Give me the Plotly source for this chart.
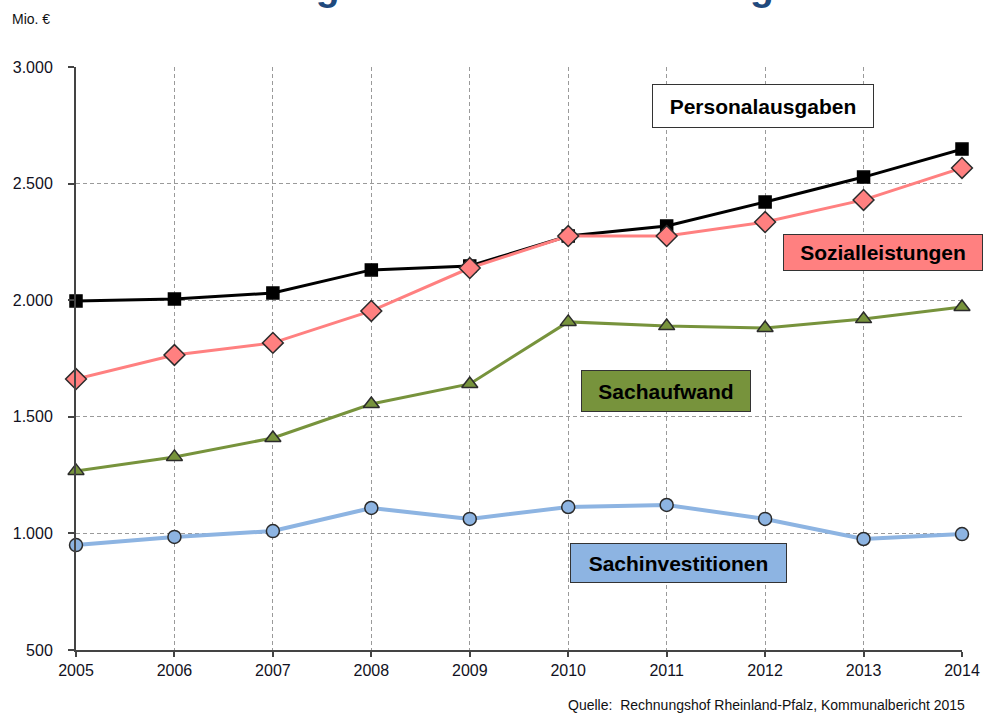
import plotly.graph_objects as go

# Municipal expenditure in Rhineland-Palatinate, million euros
years = [2005, 2006, 2007, 2008, 2009, 2010, 2011, 2012, 2013, 2014]
personalausgaben = [1997, 2005, 2031, 2130, 2147, 2275, 2318, 2421, 2528, 2648]
sozialleistungen = [1662, 1765, 1817, 1954, 2138, 2275, 2275, 2335, 2430, 2567]
sachaufwand = [1268, 1328, 1409, 1555, 1641, 1907, 1889, 1881, 1919, 1971]
sachinvestitionen = [950, 985, 1010, 1109, 1062, 1113, 1122, 1062, 976, 997]
y_ticks = [500, 1000, 1500, 2000, 2500, 3000]

FONT = "Liberation Sans, Arial, sans-serif"
W, H = 984, 713
L, R, T, B = 76, 22, 67, 63
PW, PH = W - L - R, H - T - B


def px(x):
    return (x - L) / PW


def py(y):
    return (H - B - y) / PH


fig = go.Figure()

series = [
    ("Sachinvestitionen", sachinvestitionen, "#8DB4E2", 4, "circle", 13),
    ("Sachaufwand", sachaufwand, "#77933C", 3, "triangle-up", 14),
    ("Personalausgaben", personalausgaben, "#000000", 3, "square", 12),
    ("Sozialleistungen", sozialleistungen, "#FF8080", 3, "diamond", 16),
]
for name, vals, color, lw, sym, size in series:
    border = "#000000" if sym == "square" else "#2b2b2b"
    fig.add_trace(go.Scatter(
        x=years, y=vals, name=name, mode="lines+markers",
        line=dict(color=color, width=lw),
        marker=dict(symbol=sym, size=size, color=color,
                    line=dict(color=border, width=1.5)),
        cliponaxis=False, showlegend=False,
    ))

# Series labels as boxed text
labels = [
    ("Personalausgaben", 763, 106, 222, 44, "#FFFFFF"),
    ("Sozialleistungen", 883, 252.5, 200, 37, "#FF8080"),
    ("Sachaufwand", 666, 391, 170, 42, "#77933C"),
    ("Sachinvestitionen", 678.5, 563, 217, 40, "#8DB4E2"),
]
for text, cx, cy, bw, bh, fill in labels:
    fig.add_annotation(
        text="<b>%s</b>" % text, xref="paper", yref="paper",
        x=px(cx), y=py(cy), xanchor="center", yanchor="middle",
        showarrow=False, width=bw - 2, height=bh - 2,
        bgcolor=fill, bordercolor="#333333", borderwidth=1, borderpad=0,
        font=dict(family=FONT, size=21, color="#000000"),
    )

# Title
fig.add_annotation(
    text="<b>Entwicklung der wesentlichen Ausgaben</b>",
    xref="paper", yref="paper", x=px(487.5), y=1,
    xanchor="center", yanchor="bottom", yshift=57, showarrow=False,
    font=dict(family=FONT, size=39, color="#1F497D"),
)

# Unit
fig.add_annotation(
    text="Mio. €", xref="paper", yref="paper", x=px(10), y=py(18.5),
    xanchor="left", yanchor="middle", showarrow=False,
    font=dict(family=FONT, size=14, color="#111111"),
)

# Source
fig.add_annotation(
    text="Quelle:  Rechnungshof Rheinland-Pfalz, Kommunalbericht 2015",
    xref="paper", yref="paper", x=px(967), y=py(705),
    xanchor="right", yanchor="middle", showarrow=False,
    font=dict(family=FONT, size=14, color="#111111"),
)

grid = dict(showgrid=True, gridcolor="#9a9a9a", gridwidth=1, griddash="4px,3px")

fig.update_xaxes(
    range=[2005, 2014], tickmode="array", tickvals=years,
    ticktext=[str(y) for y in years], automargin=False,
    showline=True, linecolor="#444444", linewidth=2,
    ticks="outside", ticklen=5, tickcolor="#444444", tickwidth=1.5,
    tickfont=dict(family=FONT, size=16, color="#111122"),
    zeroline=False, **grid,
)
fig.update_yaxes(
    range=[500, 3000], tickmode="array", tickvals=y_ticks,
    ticktext=[f"{v:,}".replace(",", ".") for v in y_ticks], automargin=False,
    showline=True, linecolor="#444444", linewidth=2,
    ticks="outside", ticklen=6, tickcolor="#444444", tickwidth=1.5,
    ticklabelstandoff=12,
    tickfont=dict(family=FONT, size=16, color="#111122"),
    zeroline=False, **grid,
)

fig.update_layout(
    width=W, height=H,
    margin=dict(l=L, r=R, t=T, b=B),
    paper_bgcolor="#FFFFFF", plot_bgcolor="#FFFFFF",
    font=dict(family=FONT),
)

fig.write_html("out.html")
